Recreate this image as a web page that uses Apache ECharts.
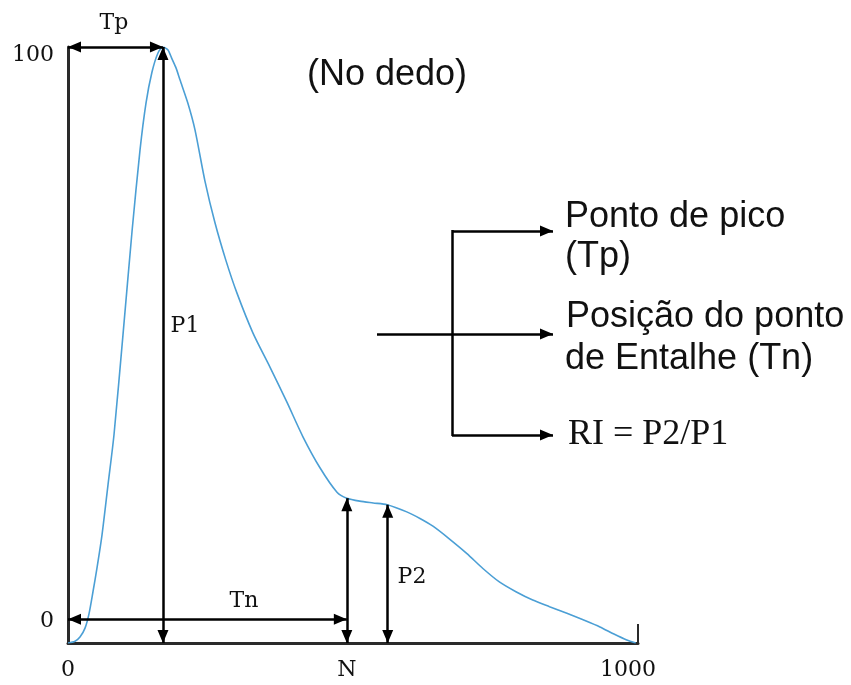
<!DOCTYPE html>
<html><head><meta charset="utf-8">
<script src="https://cdn.jsdelivr.net/npm/echarts@6/dist/echarts.min.js"></script>
<style>html,body{margin:0;padding:0;background:#fff}#c{width:851px;height:685px}</style>
</head><body><div id="c"></div>
<script>
// Pulse waveform (x: sample index 0..1000, y: amplitude 0..100)
const pulseX = [0, 12.5, 21.4, 30.4, 37.5, 44.6, 51.8, 60.7, 71.4, 82.1, 98.2, 114.3, 128.6, 139.3, 150, 160.7, 169.6, 178.6, 185.7, 192.9, 200, 214, 226.8, 244.6, 262.5, 282, 301.8, 330.4, 360.7, 391, 419.6, 450, 480.4, 498, 521, 545, 570, 605, 628.6, 651.8, 682, 712.5, 741, 771, 800, 830, 860, 891, 920, 950, 975, 998, 1014];
const pulseY = [0, 0.3, 1.0, 2.5, 4.9, 8.6, 12.6, 18.1, 26.5, 34.9, 51.7, 69.0, 82.7, 90.6, 95.8, 99.0, 100, 99.5, 98.0, 96.5, 94.5, 90.6, 86.1, 77.5, 70.5, 64.2, 58.7, 52.0, 46.3, 40.4, 34.6, 29.4, 25.3, 24.3, 23.8, 23.5, 23.2, 22.0, 20.9, 19.6, 17.4, 15.0, 12.5, 10.2, 8.6, 7.2, 6.1, 5.0, 3.9, 2.7, 1.5, 0.5, 0];

// Axis ticks
const xTickValues = [0, 498, 1000];
const xTickLabels = ['0', 'N', '1000'];
const yTickValues = [0, 100];
const yTickLabels = ['0', '100'];

// Characteristic points
const peakX = 169.6, peakY = 100;   // Tp / P1
const notchX = 498, notchY = 24.3;  // N (Tn)
const p2X = 571, p2Y = 23.2;        // P2
const tnLevel = 4.0;

const chart = echarts.init(document.getElementById('c'), null, {renderer: 'canvas'});
const serif = 'DejaVu Serif';
const sans = '"Liberation Sans", Arial, sans-serif';
const ink = '#111';
// triangle whose tip sits at the symbol centre (upper half of box is empty)
const headPath = 'path://M5,0L5,0.01L5.01,0Z M5,20L10,40L0,40Z';

const option = {
  backgroundColor: '#fff',
  animation: false,
  grid: {left: 68, right: 213, top: 47, bottom: 42, containLabel: false},
  xAxis: {
    type: 'value', min: 0, max: 1018,
    splitLine: {show: false},
    axisLine: {show: true, lineStyle: {color: '#2a2a2a', width: 3}},
    axisTick: {show: true, inside: true, length: 19, customValues: [1018], lineStyle: {color: '#2a2a2a', width: 2}},
    axisLabel: {
      customValues: xTickValues,
      formatter: v => xTickLabels[xTickValues.indexOf(v)],
      fontFamily: serif, fontSize: 22, color: ink, margin: 16
    }
  },
  yAxis: {
    type: 'value', min: 0, max: 100,
    splitLine: {show: false},
    axisLine: {show: true, lineStyle: {color: '#2a2a2a', width: 3}},
    axisTick: {show: false},
    axisLabel: {
      customValues: yTickValues,
      formatter: v => (v === 100 ? '{top|' : '{bot|') + yTickLabels[yTickValues.indexOf(v)] + '}',
      margin: 14,
      rich: {
        top: {fontFamily: serif, fontSize: 22, color: ink, padding: [16, 0, 0, 0]},
        bot: {fontFamily: serif, fontSize: 22, color: ink, padding: [0, 0, 44, 0]}
      }
    }
  },
  series: [{
    type: 'line',
    data: pulseX.map((x, i) => [x, pulseY[i]]),
    showSymbol: false,
    smooth: 0.25,
    lineStyle: {color: '#4b9fd5', width: 1.6},
    z: 3,
    markLine: {
      silent: true,
      symbol: [headPath, headPath],
      symbolSize: [11, 26],
      label: {show: false},
      lineStyle: {color: '#000', width: 2.5, type: 'solid'},
      emphasis: {disabled: true},
      data: [
        [{coord: [0, peakY]}, {coord: [peakX, peakY]}],
        [{coord: [peakX, 0]}, {coord: [peakX, peakY]}],
        [{coord: [0, tnLevel]}, {coord: [notchX, tnLevel]}],
        [{coord: [notchX, 0]}, {coord: [notchX, notchY]}],
        [{coord: [p2X, 0]}, {coord: [p2X, p2Y]}],
        [{x: 377, y: 334, symbol: 'none'}, {x: 553, y: 334}],
        [{x: 452, y: 231, symbol: 'none'}, {x: 553, y: 231}],
        [{x: 452, y: 435, symbol: 'none'}, {x: 553, y: 435}],
        [{x: 452, y: 230, symbol: 'none'}, {x: 452, y: 436, symbol: 'none'}]
      ]
    }
  }],
  graphic: [
    {type: 'text', x: 387, y: 75, style: {text: '(No dedo)', font: '36px ' + sans, fill: ink, align: 'center', verticalAlign: 'middle'}},
    {type: 'text', x: 114, y: 23, style: {text: 'Tp', font: '22px ' + serif, fill: ink, align: 'center', verticalAlign: 'middle'}},
    {type: 'text', x: 185, y: 326, style: {text: 'P1', font: '22px ' + serif, fill: ink, align: 'center', verticalAlign: 'middle'}},
    {type: 'text', x: 244, y: 601, style: {text: 'Tn', font: '22px ' + serif, fill: ink, align: 'center', verticalAlign: 'middle'}},
    {type: 'text', x: 412, y: 577, style: {text: 'P2', font: '22px ' + serif, fill: ink, align: 'center', verticalAlign: 'middle'}},
    {type: 'text', x: 565, y: 217, style: {text: 'Ponto de pico', font: '36px ' + sans, fill: ink, align: 'left', verticalAlign: 'middle'}},
    {type: 'text', x: 565, y: 257, style: {text: '(Tp)', font: '36px ' + sans, fill: ink, align: 'left', verticalAlign: 'middle'}},
    {type: 'text', x: 566, y: 317, style: {text: 'Posição do ponto', font: '36px ' + sans, fill: ink, align: 'left', verticalAlign: 'middle'}},
    {type: 'text', x: 565, y: 359, style: {text: 'de Entalhe (Tn)', font: '36px ' + sans, fill: ink, align: 'left', verticalAlign: 'middle'}},
    {type: 'text', x: 568, y: 435, style: {text: 'RI = P2/P1', font: '36px "Liberation Serif", "Times New Roman", serif', fill: ink, align: 'left', verticalAlign: 'middle'}}
  ]
};
chart.setOption(option);
</script>
</body></html>
